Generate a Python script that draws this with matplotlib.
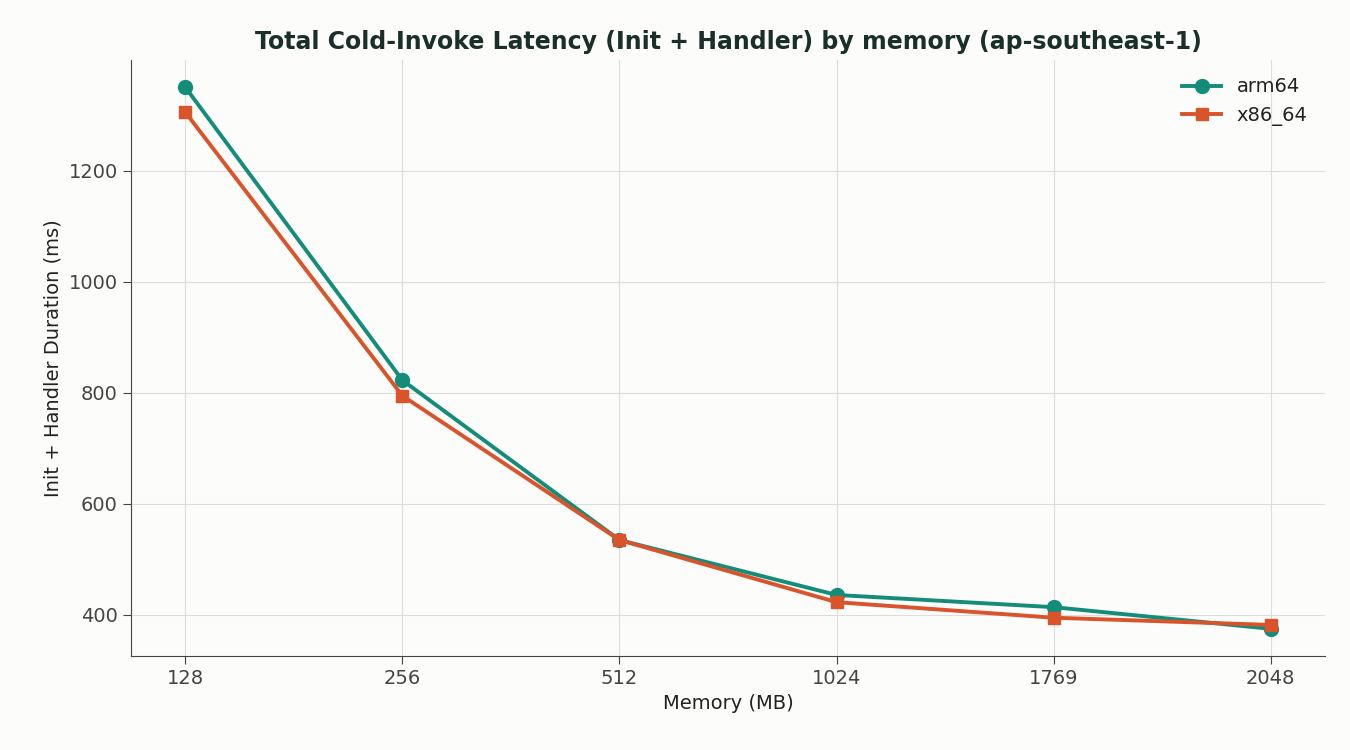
import matplotlib
matplotlib.use("Agg")
import matplotlib.pyplot as plt

plt.rcParams['font.family'] = ['DejaVu Sans']

memory = ["128", "256", "512", "1024", "1769", "2048"]
arm64 = [1351, 823, 535, 436, 414, 375]
x86_64 = [1306, 795, 535, 423, 395, 382]

bg = "#fcfcfa"
fig = plt.figure(figsize=(13.5, 7.5), dpi=100, facecolor=bg)
ax = fig.add_axes([131/1350, 1-656/750, (1325-131)/1350, (656-60)/750], facecolor=bg)
x = list(range(len(memory)))
ax.plot(x, arm64, color="#138d7a", lw=2.8, marker="o", ms=10, label="arm64", zorder=3)
ax.plot(x, x86_64, color="#d9532b", lw=2.8, marker="s", ms=9, label="x86_64", zorder=3)
ax.set_xticks(x)
ax.set_xticklabels(memory)
ax.set_xlim(-0.25, 5.25)
ax.set_ylim(326, 1400)
ax.set_yticks([400, 600, 800, 1000, 1200])
ax.grid(True, color="#dddddd", lw=0.8)
ax.set_axisbelow(True)
for s in ["top", "right"]:
    ax.spines[s].set_visible(False)
for s in ["left", "bottom"]:
    ax.spines[s].set_color("#444444")
ax.tick_params(labelsize=14, colors="#444444", length=6)
ax.set_xlabel("Memory (MB)", fontsize=14, color="#222222")
ax.set_ylabel("Init + Handler Duration (ms)", fontsize=14, color="#222222")
ax.set_title("Total Cold-Invoke Latency (Init + Handler) by memory (ap-southeast-1)",
             fontsize=17, fontweight="bold", color="#1a2e2a", pad=8)
leg = ax.legend(loc="upper right", frameon=False, fontsize=14)
for t in leg.get_texts():
    t.set_color("#222222")
fig.savefig("out.png", dpi=100, facecolor=bg)
